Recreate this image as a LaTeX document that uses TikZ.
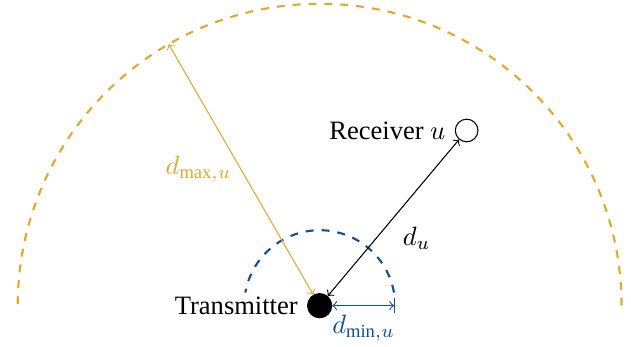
\documentclass[tikz,border=0pt]{standalone}
\usepackage{fontspec}
\setmainfont{Liberation Serif}
\usetikzlibrary{positioning}
\definecolor{maxcol}{RGB}{230,168,40}
\definecolor{mincol}{RGB}{16,80,150}
\tikzset{
  station/.style={circle, draw, minimum size=0.3cm, inner sep=0pt},
  rangearc/.style={dashed, thick},
}
\begin{document}
\begin{tikzpicture}
  \useasboundingbox (-4.235,-0.54) rectangle (4.125,4.05);
  \node[station, fill=black, minimum size=0.32cm] (tx) at (0,0) {};
  \node[station] (rx) at (50:3.03) {};
  \node[left=0pt of rx] (rxlabel) {Receiver $u$};
  \node[left=0pt of tx] (txlabel) {Transmitter};
  \draw[rangearc, maxcol] (4,0) arc (0:180:4);
  \draw[rangearc, mincol] (10:1) arc (10:170:1);
  \coordinate (dmax) at (120:4);
  \coordinate (dmin) at (1,0);
  \draw[<->, maxcol] (dmax) -- (tx) node[midway, left] {$d_{\max,u}$};
  \draw[<->] (tx) -- (rx) node[midway, below right] {$d_u$};
  \draw[<->|, mincol] (tx) -- (dmin) node[midway, below] {$d_{\min,u}$};
\end{tikzpicture}
\end{document}
